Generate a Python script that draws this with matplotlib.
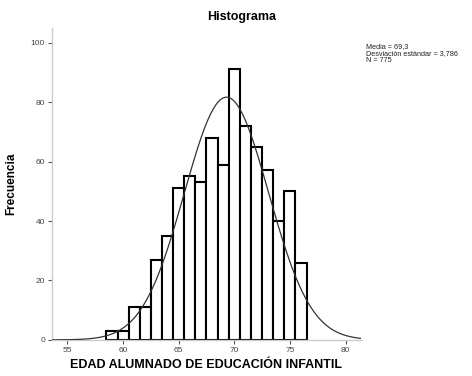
import numpy as np
import matplotlib
matplotlib.use("Agg")
import matplotlib.pyplot as plt

plt.rcParams['font.family'] = ['Liberation Sans', 'DejaVu Sans']

edades = [59, 60, 61, 62, 63, 64, 65, 66, 67, 68, 69, 70, 71, 72, 73, 74, 75, 76]
frecuencia = [3, 3, 11, 11, 27, 35, 51, 55, 53, 68, 59, 91, 72, 65, 57, 40, 50, 26]
media = 69.3
desv = 3.786
n = 775

fig = plt.figure(figsize=(4.72, 3.76), dpi=100)
ax = fig.add_axes([0.110, 0.096, 0.655, 0.830])

ax.bar(edades, frecuencia, width=1.0, facecolor="white", edgecolor="black",
       linewidth=1.5, zorder=2)

xs = np.linspace(53.6, 81.4, 400)
ys = n * 1.0 / (desv * np.sqrt(2 * np.pi)) * np.exp(-0.5 * ((xs - media) / desv) ** 2)
ax.plot(xs, ys, color="#333333", linewidth=0.9, zorder=3)

ax.set_xlim(53.6, 81.4)
ax.set_ylim(0, 105)
ax.set_xticks([55, 60, 65, 70, 75, 80])
ax.set_yticks([0, 20, 40, 60, 80, 100])
ax.tick_params(axis="both", labelsize=6, length=3, width=0.8, color="#555555",
               labelcolor="#444444", pad=2)

for s in ["top", "right"]:
    ax.spines[s].set_visible(False)
for s in ["left", "bottom"]:
    ax.spines[s].set_color("#cccccc")
    ax.spines[s].set_linewidth(1.0)

fig.text(242 / 472, 1 - 17 / 376, "Histograma", fontsize=9, fontweight="bold",
         ha="center", va="center")
ax.set_xlabel("EDAD ALUMNADO DE EDUCACIÓN INFANTIL", fontsize=9,
              fontweight="bold", labelpad=4)
ax.set_ylabel("Frecuencia", fontsize=8.5, fontweight="bold", labelpad=10)

fig.text(0.775, 0.885, "Media = 69,3\nDesviación estándar = 3,786\nN = 775",
         fontsize=5.2, va="top", ha="left", linespacing=1.0, color="#222222")

fig.savefig("out.png", dpi=100)
